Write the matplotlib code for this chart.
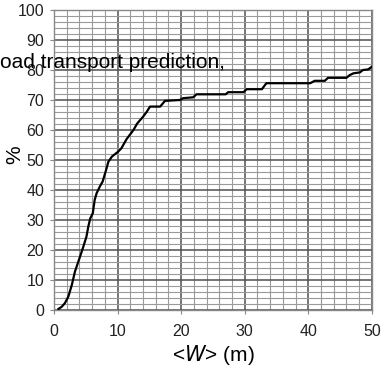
import matplotlib
matplotlib.use('Agg')
import matplotlib.pyplot as plt
from matplotlib.ticker import MultipleLocator

plt.rcParams['font.family'] = ['Liberation Sans', 'DejaVu Sans']

# Cumulative distribution of mean width <W>
width_m = [0.7, 1.2, 1.7, 2.25, 2.8, 3.3, 4.1, 4.6, 5.1, 5.4, 5.7, 6.1, 6.4,
           6.7, 7.2, 7.65, 8.2, 8.55, 9.1, 10.1, 10.6, 11.4, 11.9, 12.5, 13.1,
           14.0, 14.6, 15.1, 16.7, 17.45, 19.8, 20.3, 21.9, 22.4, 27.0, 27.4,
           29.8, 30.3, 32.7, 33.4, 40.3, 41.0, 42.6, 43.1, 46.0, 46.5, 47.1,
           48.1, 48.6, 49.4, 50.0]
percent = [0.3, 1.0, 2.2, 4.4, 8.3, 12.8, 17.8, 21.0, 24.4, 27.8, 30.5, 32.2, 36.7,
           38.9, 41.1, 42.8, 46.7, 49.4, 51.1, 52.8, 53.9, 56.9, 58.3, 60.0, 62.2,
           64.4, 66.1, 67.8, 67.8, 69.7, 70.0, 70.6, 70.9, 71.9, 71.9, 72.6,
           72.6, 73.6, 73.6, 75.6, 75.6, 76.4, 76.4, 77.4, 77.4, 78.3, 78.9,
           79.2, 80.0, 80.2, 81.1]

fig = plt.figure(figsize=(3.83, 3.72), dpi=100)
ax = fig.add_axes([0.141, 0.167, 0.830, 0.806])

ax.plot(width_m, percent, color='black', lw=1.6, zorder=3)

ax.set_xlim(0, 50)
ax.set_ylim(0, 100)
ax.xaxis.set_major_locator(MultipleLocator(10))
ax.xaxis.set_minor_locator(MultipleLocator(2))
ax.yaxis.set_major_locator(MultipleLocator(10))
ax.yaxis.set_minor_locator(MultipleLocator(2))
ax.grid(which='major', color='#505050', lw=1.1)
ax.grid(which='minor', color='#9a9a9a', lw=0.8)
ax.set_axisbelow(True)
for s in ax.spines.values():
    s.set_color('#888888')
    s.set_linewidth(1.0)

ax.tick_params(which='major', length=3, color='#888888', labelsize=11.5,
               labelcolor='#222222', pad=4)
ax.tick_params(which='minor', length=0)
ax.tick_params(axis='x', pad=7)

ax.set_xlabel('<$\\it{W}$> (m)', fontsize=15, labelpad=3)
ax.set_ylabel('%', fontsize=15)
ax.yaxis.set_label_coords(-0.095, 0.517)

# stray caption text partly clipped in the original image
fig.text(0.0, 1 - 68 / 372, 'oad transport prediction,', fontsize=15,
         ha='left', va='baseline')

fig.savefig('out.png', dpi=100)
